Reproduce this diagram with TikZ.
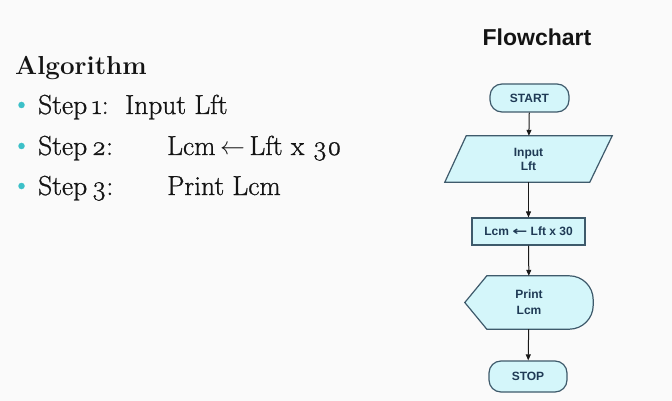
\documentclass[tikz,border=0pt]{standalone}
\usepackage{fontspec}
\setmainfont{Latin Modern Roman}[Numbers=OldStyle]
\newfontfamily\algfont{Latin Modern Roman}[Numbers=OldStyle, FakeBold=0.9]
\newfontfamily\flowfont{Liberation Sans}
\newfontfamily\arrowfont{DejaVu Sans}
\usetikzlibrary{arrows.meta}
\definecolor{bgc}{HTML}{FAFAFA}
\definecolor{shapefill}{HTML}{D4F6FA}
\definecolor{shapeline}{HTML}{3E5A6B}
\definecolor{shapetext}{HTML}{1F3A55}
\definecolor{bulletc}{HTML}{3CC0C8}
\definecolor{txt}{HTML}{141414}
\tikzset{
  fc/.style={font=\flowfont\bfseries\fontsize{12}{14}\selectfont, text=shapetext, align=center, inner sep=0pt},
  shp/.style={draw=shapeline, fill=shapefill, line width=1.2pt},
  term/.style={fc, shp, rounded corners=12pt},
  proc/.style={fc, shp},
  conn/.style={draw=black!90, line width=1pt, -{Triangle[length=6pt,width=5pt]}},
  algtxt/.style={font=\algfont\fontsize{27.5}{30}\selectfont, text=txt, anchor=base west, inner sep=0pt},
  bul/.style={fill=bulletc, draw=none, circle, minimum size=6.5pt, inner sep=0pt}
}
\begin{document}
\begin{tikzpicture}[x=1pt,y=-1pt]
\fill[bgc] (0,0) rectangle (672,401);
\useasboundingbox (0,0) rectangle (672,401);

% left text
\node[algtxt, font=\bfseries\fontsize{26}{30}\selectfont] (alg) at (15,75) {Algorithm};
\node[bul] (b1) at (21.5,105) {};
\node[bul] (b2) at (21.5,146) {};
\node[bul] (b3) at (21.5,186) {};
\node[algtxt] (s1) at (38,114) {Step\,1:};
\node[algtxt] (t1) at (125,114) {Input Lft};
\node[algtxt] (s2) at (38,155) {Step\,2:};
\node[algtxt] (t2) at (167,155) {Lcm\,$\leftarrow$\,Lft x 30};
\node[algtxt] (s3) at (38,195) {Step\,3:};
\node[algtxt] (t3) at (167,195) {Print Lcm};

% flowchart title
\node[font=\flowfont\bfseries\fontsize{23}{26}\selectfont, anchor=base, inner sep=0pt, text=txt] (title) at (537,46) {Flowchart};

% start
\node[term, minimum width=79pt, minimum height=28pt] (start) at (529.5,98) {START};

% input parallelogram
\node[fc, minimum width=167pt, minimum height=46pt] (inp) at (528.5,159) {};
\draw[shp] (inp.south west) -- ([xshift=145pt]inp.south west) -- (inp.north east) -- ([xshift=-146pt]inp.north east) -- cycle;
\node[fc, font=\flowfont\bfseries\fontsize{12}{14}\selectfont] (inptxt) at (inp.center) {Input\\Lft};

% process
\node[proc, minimum width=113pt, minimum height=27pt] (proc) at (528.5,231.5) {Lcm {\arrowfont\bfseries\scalebox{1.5}[1]{←}} Lft x 30};

% display
\node[fc, minimum width=128pt, minimum height=53pt] (disp) at (529,302.5) {};
\draw[shp] (disp.west) -- ([xshift=22pt]disp.north west) {[rounded corners=24pt] -- (disp.north east) -- (disp.south east)} -- ([xshift=22pt]disp.south west) -- cycle;
\node[fc, font=\flowfont\bfseries\fontsize{12}{16}\selectfont] (disptxt) at (disp.center) {Print\\Lcm};

% stop
\node[term, minimum width=78pt, minimum height=31pt] (stop) at (528,376.5) {STOP};

% connectors
\draw[conn] (start) -- (inp);
\draw[conn] (inp) -- (proc);
\draw[conn] (proc) -- (disp);
\draw[conn] (disp) -- (stop);
\end{tikzpicture}
\end{document}
